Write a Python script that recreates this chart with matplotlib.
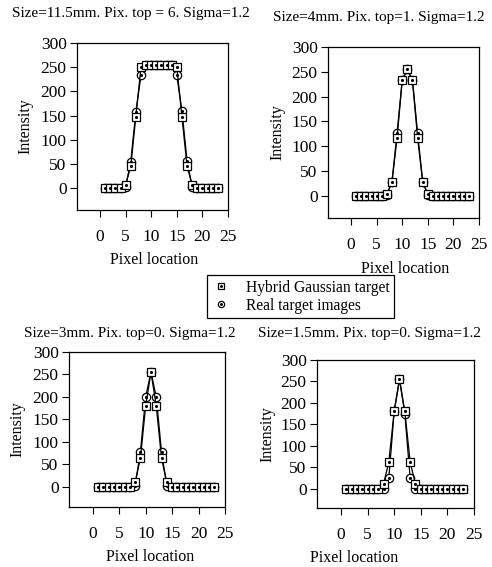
import numpy as np
import matplotlib
matplotlib.use("Agg")
from matplotlib import pyplot as plt
from matplotlib.lines import Line2D

plt.rcParams['font.family'] = ['Liberation Serif', 'DejaVu Serif']

pix = list(range(1, 24))

# Size=11.5mm
hyb1 = [0, 0, 0, 0, 7, 45, 148, 250, 255, 255, 255, 255, 255, 255, 250, 148, 45, 7, 0, 0, 0, 0, 0]
real1 = [0, 0, 0, 0, 3, 55, 158, 233, 255, 255, 255, 255, 255, 255, 233, 160, 57, 3, 0, 0, 0, 0, 0]
# Size=4mm
hyb2 = [0, 0, 0, 0, 0, 0, 3, 28, 117, 233, 255, 233, 117, 28, 3, 0, 0, 0, 0, 0, 0, 0, 0]
real2 = [0, 0, 0, 0, 0, 0, 2, 28, 127, 233, 255, 233, 127, 28, 2, 0, 0, 0, 0, 0, 0, 0, 0]
# Size=3mm
hyb3 = [0, 0, 0, 0, 0, 0, 0, 10, 63, 180, 255, 180, 63, 10, 0, 0, 0, 0, 0, 0, 0, 0, 0]
real3 = [0, 0, 0, 0, 0, 0, 0, 2, 77, 200, 255, 200, 77, 2, 0, 0, 0, 0, 0, 0, 0, 0, 0]
# Size=1.5mm
hyb4 = [0, 0, 0, 0, 0, 0, 0, 10, 63, 180, 255, 180, 63, 10, 0, 0, 0, 0, 0, 0, 0, 0, 0]
real4 = [0, 0, 0, 0, 0, 0, 0, 0, 25, 180, 255, 175, 25, 0, 0, 0, 0, 0, 0, 0, 0, 0, 0]

titles = ["Size=11.5mm. Pix. top = 6. Sigma=1.2",
          "Size=4mm. Pix. top=1. Sigma=1.2",
          "Size=3mm. Pix. top=0. Sigma=1.2",
          "Size=1.5mm. Pix. top=0. Sigma=1.2"]
xticks = [0, 5, 10, 15, 20, 25]
yticks = [0, 50, 100, 150, 200, 250, 300]

W, H = 492, 567
fig = plt.figure(figsize=(W / 100, H / 100), dpi=100)

# axes boxes in pixels: left, top, right, bottom
boxes = [(77, 43, 228, 210), (328, 47, 479, 218), (69, 352, 225, 507), (317, 360, 474, 508)]
title_xy = [(131, 14), (379, 18), (130, 333), (370, 333)]
xlab_xy = [(154, 260), (405, 269), (150, 557), (354, 558)]
ylab_x = [25, 277, 17, 267]
data = [(hyb1, real1), (hyb2, real2), (hyb3, real3), (hyb4, real4)]

def marks(ax, y, m):
    ax.plot(pix, y, color='black', lw=0.9, marker=m, ms=6, mfc='white', mec='black', mew=0.9)
    ax.plot(pix, y, ls='none', marker='.', ms=2.5, color='black')

for i in range(4):
    l, t, r, b = boxes[i]
    ax = fig.add_axes([l / W, 1 - b / H, (r - l) / W, (b - t) / H])
    hyb, real = data[i]
    marks(ax, real, 'o')
    marks(ax, hyb, 's')
    ax.set_xlim(-4.5, 25)
    ax.set_ylim(-45, 300)
    ax.set_xticks(xticks)
    ax.set_yticks(yticks)
    ax.tick_params(axis='x', direction='out', length=5, pad=9, labelsize=12.5)
    ax.tick_params(axis='y', direction='out', length=5, pad=2.5, labelsize=12.5)
    for s in ax.spines.values():
        s.set_linewidth(0.9)
    fig.text(xlab_xy[i][0] / W, 1 - xlab_xy[i][1] / H, "Pixel location",
             ha='center', va='center', fontsize=11.5)
    fig.text(ylab_x[i] / W, 1 - (t + b) / 2 / H, "Intensity", rotation=90,
             ha='center', va='center', fontsize=11.5)
    fig.text(title_xy[i][0] / W, 1 - title_xy[i][1] / H, titles[i],
             ha='center', va='center', fontsize=11)

sq = (Line2D([], [], ls='none', marker='s', ms=4.5, mfc='white', mec='black', mew=0.9),
      Line2D([], [], ls='none', marker='.', ms=2.2, color='black'))
ci = (Line2D([], [], ls='none', marker='o', ms=4.5, mfc='white', mec='black', mew=0.9),
      Line2D([], [], ls='none', marker='.', ms=2.2, color='black'))
leg = fig.legend([sq, ci], ["Hybrid Gaussian target", "Real target images"],
                 loc='upper left', bbox_to_anchor=(207 / W, 1 - 275 / H),
                 fancybox=False, edgecolor='black', framealpha=1, fontsize=11.2,
                 handlelength=1.2, handletextpad=1.0, borderpad=0.3, labelspacing=0.12,
                 borderaxespad=0)
leg.get_frame().set_linewidth(0.9)

fig.savefig("out.png", dpi=100)
